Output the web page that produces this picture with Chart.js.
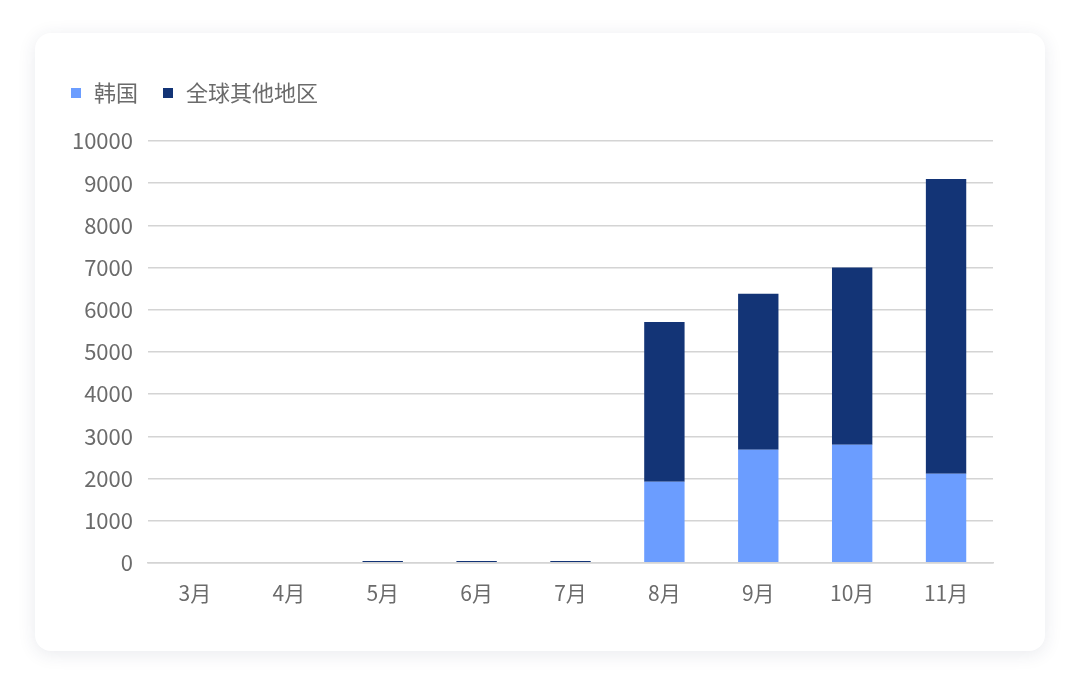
<!DOCTYPE html>
<html>
<head>
<meta charset="utf-8">
<script src="https://cdn.jsdelivr.net/npm/chart.js@4"></script>
<style>
  html, body { margin: 0; padding: 0; background: #ffffff; }
  body { width: 1080px; height: 687px; position: relative; overflow: hidden; }
  .card {
    position: absolute; left: 35px; top: 33px; width: 1010px; height: 618px;
    background: #fff; border-radius: 16px;
    box-shadow: 0 3px 18px rgba(40, 50, 90, 0.10);
  }
  .card canvas { display: block; }
</style>
</head>
<body>
<div class="card"><canvas id="chart"></canvas></div>
<script>
// months on the x axis
const months = ["3月", "4月", "5月", "6月", "7月", "8月", "9月", "10月", "11月"];
// 韩国 (bottom of the stack)
const korea = [0, 0, 0, 0, 0, 1920, 2680, 2800, 2110];
// 全球其他地区 (top of the stack)
const restOfWorld = [0, 0, 45, 45, 45, 3790, 3700, 4200, 6990];

const koreaColor = "#6b9dff";
const restColor = "#133476";
const fontFamily = "'Noto Sans CJK SC', 'Noto Sans', sans-serif";
const textColor = "#6b6b6b";
const gridColor = "#d4d4d4";

// small square used as legend marker
function legendSquare(color) {
  const c = document.createElement("canvas");
  c.width = 10;
  c.height = 10;
  const g = c.getContext("2d");
  g.fillStyle = color;
  g.fillRect(0, 0, 10, 10);
  return c;
}

// leave some room under the legend
const legendGap = {
  id: "legendGap",
  beforeInit(chart) {
    const fit = chart.legend.fit;
    chart.legend.fit = function () {
      fit.bind(chart.legend)();
      this.height += 27;
    };
  }
};

const ctx = document.getElementById("chart").getContext("2d");
ctx.canvas.width = 1010;
ctx.canvas.height = 618;

new Chart(ctx, {
  type: "bar",
  data: {
    labels: months,
    datasets: [
      { label: "韩国", data: korea, backgroundColor: koreaColor, borderWidth: 0, pointStyle: legendSquare(koreaColor) },
      { label: "全球其他地区", data: restOfWorld, backgroundColor: restColor, borderWidth: 0, pointStyle: legendSquare(restColor) }
    ]
  },
  plugins: [legendGap],
  options: {
    responsive: false,
    animation: false,
    devicePixelRatio: 1,
    layout: { padding: { left: 11, right: 52, top: 26, bottom: 27 } },
    datasets: { bar: { barPercentage: 0.43, categoryPercentage: 1 } },
    plugins: {
      tooltip: { enabled: false },
      legend: {
        position: "top",
        align: "start",
        labels: {
          usePointStyle: true,
          pointStyleWidth: 14,
          padding: 23,
          color: textColor,
          font: { family: fontFamily, size: 22 }
        }
      }
    },
    scales: {
      x: {
        stacked: true,
        grid: { display: false, drawTicks: false },
        border: { display: true, color: gridColor, width: 1.5 },
        ticks: { color: textColor, padding: 18, font: { family: fontFamily, size: 21 } }
      },
      y: {
        stacked: true,
        min: 0,
        max: 10000,
        afterFit: axis => { axis.width = 102; },
        grid: { color: gridColor, lineWidth: 1.5, drawTicks: false },
        border: { display: false },
        ticks: {
          stepSize: 1000,
          color: textColor,
          padding: 15,
          font: { family: fontFamily, size: 22 },
          callback: value => String(value)
        }
      }
    }
  }
});
</script>
</body>
</html>
